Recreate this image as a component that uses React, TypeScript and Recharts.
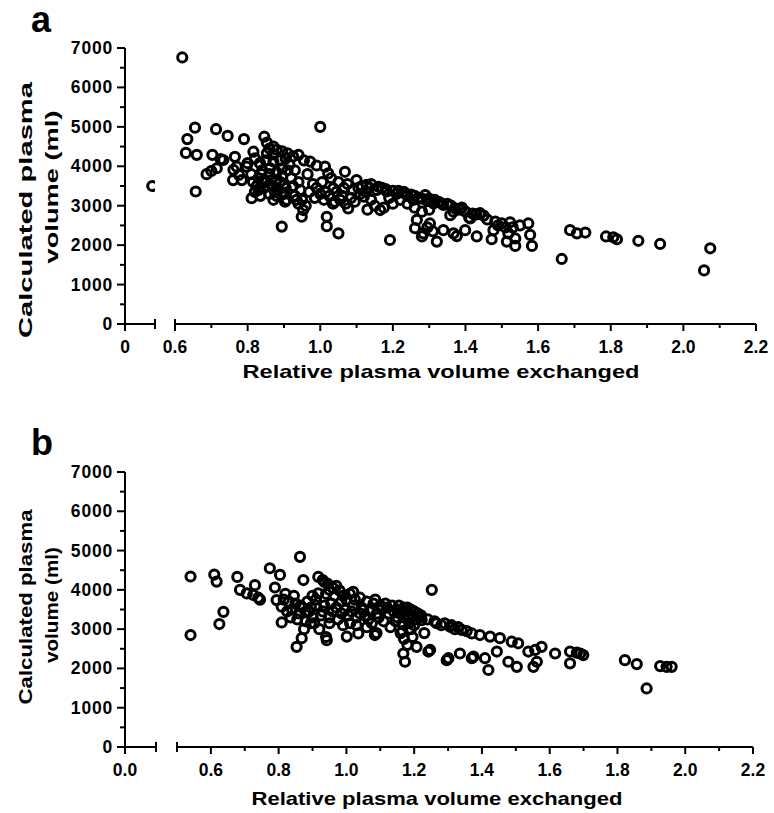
import { ScatterChart, Scatter, XAxis, YAxis } from 'recharts'

type Pt = [number, number]

const FONT = '"Liberation Sans", Arial, Helvetica, sans-serif'

const Y_TICKS = [0, 500, 1000, 1500, 2000, 2500, 3000, 3500, 4000, 4500, 5000, 5500, 6000, 6500, 7000]
const A_X_TICKS = [0.6, 0.7, 0.8, 0.9, 1.0, 1.1, 1.2, 1.3, 1.4, 1.5, 1.6, 1.7, 1.8, 1.9, 2.0, 2.1, 2.2]
const B_X_TICKS = [0.5, ...A_X_TICKS]
const A_LEFT_TICKS = [0, 0.55]
const B_LEFT_TICKS = [0, 0.1]

const X_TITLE = 'Relative plasma volume exchanged'
const Y_TITLE_1 = 'Calculated plasma'
const Y_TITLE_2 = 'volume (ml)'

// panel a: the lone point before the axis break
const A_LEFT: Pt[] = [[0.5, 3500]]

const A_MAIN: Pt[] = [
  [0.62, 6760], [0.655, 4980], [0.634, 4690], [0.63, 4340], [0.66, 4290], [0.657, 3360],
  [0.713, 4940], [0.745, 4770], [0.79, 4690], [0.703, 4290], [0.726, 4180], [0.687, 3800],
  [0.715, 3950], [0.70, 3880], [0.733, 4160], [0.765, 4240], [0.761, 3910], [0.76, 3650],
  [0.784, 3650], [0.77, 3990], [0.797, 3990], [0.776, 3780], [0.81, 3800], [0.816, 4370],
  [0.82, 4200], [0.80, 4080], [0.846, 4750], [0.853, 4600], [0.86, 4450], [0.871, 4500],
  [0.88, 4420], [0.895, 4380], [0.91, 4330], [0.925, 4250], [0.94, 4290], [0.955, 4150],
  [0.972, 4120], [0.99, 4020], [0.834, 4080], [0.853, 4330], [0.871, 4120], [0.84, 3900],
  [0.83, 3700], [0.85, 3600], [0.86, 3800], [0.87, 3500], [0.88, 3650], [0.845, 3450],
  [0.82, 3350], [0.811, 3190], [0.835, 3250], [0.86, 3300], [0.871, 3150], [0.885, 3400],
  [0.9, 3550], [0.90, 3300], [0.894, 2470], [0.903, 3100], [0.908, 3150], [0.92, 3700],
  [0.93, 3900], [0.94, 3600], [0.945, 3400], [0.93, 3250], [0.95, 3150], [0.949, 2720],
  [0.953, 2890], [0.96, 3000], [0.97, 3350], [0.98, 3550], [0.965, 3800], [1.0, 5000],
  [1.013, 3990], [1.022, 3820], [1.03, 3700], [1.018, 2720], [1.018, 2480], [1.05, 2300],
  [1.036, 3440], [1.0, 3300], [1.01, 3150], [1.04, 3100], [1.06, 3250], [1.068, 3860],
  [1.055, 3150], [1.077, 2930], [1.07, 3050], [1.09, 3400], [1.10, 3650], [1.11, 3300],
  [1.12, 3230], [1.128, 3530], [1.14, 3150], [1.156, 3400], [1.165, 2890], [1.17, 3450],
  [1.183, 3360], [1.19, 3200], [1.192, 2130], [1.2, 3380], [1.21, 3300], [1.22, 3150],
  [1.23, 3350], [1.24, 3250], [1.25, 3280], [1.256, 3145], [1.261, 2430], [1.266, 2640],
  [1.27, 3200], [1.28, 2220], [1.284, 2300], [1.289, 3270], [1.3, 3180], [1.302, 2550],
  [1.312, 3060], [1.321, 2090], [1.325, 3100], [1.339, 3020], [1.339, 2380], [1.35, 3050],
  [1.358, 2760], [1.367, 2850], [1.367, 2300], [1.371, 2930], [1.376, 2230], [1.385, 2900],
  [1.399, 2380], [1.41, 2700], [1.413, 2680], [1.42, 2800], [1.431, 2220], [1.44, 2810],
  [1.45, 2750], [1.472, 2150], [1.477, 2380], [1.482, 2600], [1.49, 2500], [1.514, 2090],
  [1.518, 2300], [1.523, 2580], [1.53, 2450], [1.537, 2170], [1.537, 1980], [1.55, 2500],
  [1.573, 2550], [1.578, 2260], [1.583, 1980], [1.665, 1650], [1.688, 2380], [1.707, 2300],
  [1.73, 2320], [1.787, 2220], [1.807, 2200], [1.817, 2150], [1.876, 2110], [1.936, 2030],
  [2.057, 1360], [2.074, 1920],
  // denser core of the cloud
  [0.815, 3600], [0.825, 3500], [0.83, 3400], [0.838, 3800], [0.845, 3650], [0.855, 3500],
  [0.865, 3650], [0.875, 3350], [0.88, 3250], [0.89, 3600], [0.895, 3750], [0.905, 3450],
  [0.91, 3900], [0.915, 4050], [0.925, 3500], [0.935, 3150], [0.94, 3050], [0.88, 3850],
  [0.862, 3950], [0.85, 4150], [0.87, 4300], [0.89, 4150], [0.905, 4200], [0.895, 3950],
  [0.985, 3200], [0.99, 3450], [1.005, 3600], [1.015, 3350], [1.025, 3250], [1.035, 3050],
  [1.045, 3350], [1.05, 3600], [1.065, 3450], [1.075, 3550], [1.085, 3200], [1.095, 3100],
  [1.105, 3450], [1.115, 3500], [1.125, 3350], [1.135, 3450], [1.14, 3550], [1.16, 3480],
  [1.18, 3420], [1.215, 3380], [1.235, 3300], [1.26, 3250], [1.28, 3180], [1.295, 3120],
  [1.315, 3150], [1.33, 3080], [1.36, 3000], [1.39, 2950], [1.40, 2850], [1.43, 2780],
  [1.46, 2650], [1.50, 2550], [1.51, 2450], [1.15, 3000], [1.175, 2950], [1.2, 3050],
  [1.13, 2900], [1.24, 3050], [1.26, 2950], [1.28, 2850], [1.3, 2900], [1.295, 2450],
  [1.31, 2350],
]

const B_MAIN: Pt[] = [
  [0.54, 4340], [0.54, 2850], [0.61, 4390], [0.617, 4210], [0.637, 3440], [0.625, 3130],
  [0.678, 4330], [0.686, 4000], [0.706, 3910], [0.73, 4120], [0.725, 3870], [0.745, 3750],
  [0.74, 3800], [0.774, 4550], [0.804, 4380], [0.863, 4840], [0.873, 4250], [0.789, 4060],
  [0.794, 3740], [0.809, 3570], [0.809, 3170], [0.853, 2550], [0.868, 2770], [0.82, 3900],
  [0.83, 3700], [0.84, 3500], [0.835, 3300], [0.85, 3650], [0.86, 3400], [0.87, 3550],
  [0.88, 3200], [0.885, 3700], [0.89, 3450], [0.90, 3300], [0.90, 3850], [0.917, 4330],
  [0.93, 4250], [0.945, 4150], [0.96, 4050], [0.98, 3980], [0.917, 3910], [0.91, 3600],
  [0.905, 3150], [0.92, 3000], [0.942, 2720], [0.94, 2800], [0.93, 3450], [0.95, 3300],
  [0.955, 3650], [0.97, 3550], [0.985, 3400], [0.99, 3100], [1.001, 2810], [1.011, 3150],
  [1.0, 3750], [1.01, 3900], [1.02, 3600], [1.035, 2890], [1.03, 3300], [1.04, 3800],
  [1.05, 3500], [1.06, 3700], [1.065, 3250], [1.08, 3650], [1.084, 2850], [1.089, 2900],
  [1.09, 3400], [1.10, 3600], [1.11, 3200], [1.12, 3550], [1.13, 3050], [1.14, 3450],
  [1.15, 3500], [1.15, 3300], [1.16, 2900], [1.165, 3150], [1.168, 2380], [1.173, 2170],
  [1.175, 3450], [1.18, 3550], [1.185, 3300], [1.19, 3000], [1.195, 2800], [1.2, 3450],
  [1.207, 2550], [1.215, 3300], [1.222, 3230], [1.23, 2900], [1.242, 2430], [1.247, 2470],
  [1.252, 4000], [1.266, 3150], [1.28, 3100], [1.296, 2210], [1.301, 2260], [1.306, 3060],
  [1.32, 3000], [1.335, 2380], [1.34, 2980], [1.355, 2950], [1.37, 2890], [1.37, 2260],
  [1.375, 2300], [1.394, 2850], [1.409, 2260], [1.419, 1960], [1.424, 2810], [1.444, 2430],
  [1.453, 2770], [1.478, 2170], [1.488, 2680], [1.503, 2040], [1.507, 2640], [1.537, 2430],
  [1.552, 2040], [1.557, 2470], [1.562, 2170], [1.576, 2550], [1.616, 2380], [1.66, 2430],
  [1.66, 2130], [1.68, 2400], [1.699, 2340], [1.69, 2380], [1.822, 2210], [1.857, 2110],
  [1.886, 1490], [1.926, 2060], [1.945, 2040], [1.96, 2040],
  // denser core of the cloud
  [0.815, 3750], [0.825, 3450], [0.845, 3850], [0.855, 3250], [0.865, 3600], [0.875, 3000],
  [0.88, 3450], [0.895, 3550], [0.895, 3150], [0.91, 3750], [0.925, 3350], [0.935, 3600],
  [0.94, 3900], [0.95, 3150], [0.96, 3450], [0.965, 3850], [0.975, 3250], [0.985, 3700],
  [0.995, 3500], [1.005, 3350], [1.015, 3450], [1.025, 3750], [1.03, 3100], [1.045, 3550],
  [1.055, 3350], [1.07, 3500], [1.075, 3150], [1.085, 3750], [1.095, 3300], [1.105, 3500],
  [1.115, 3650], [1.125, 3400], [1.135, 3600], [1.145, 3200], [1.155, 3600], [1.16, 3400],
  [1.17, 3300], [1.17, 3550], [1.18, 3450], [1.185, 3150], [1.19, 3500], [1.195, 3350],
  [1.205, 3250], [1.21, 3400], [1.22, 3350], [1.17, 2750], [1.18, 2600], [1.165, 2950],
  [1.2, 3100], [1.24, 3250], [1.26, 3200], [1.29, 3150], [1.31, 3100], [1.33, 3050],
  [1.06, 3050], [1.04, 3400], [0.99, 3850], [1.02, 3950], [0.95, 4000], [0.97, 4100],
  [0.935, 4200],
]

const toRows = (pts: Pt[]) => pts.map(([x, y]) => ({ x, y }))

const Ring = (props: any) => (
  <circle cx={props.cx} cy={props.cy} r={4.6} fill="none" stroke="#000" strokeWidth={3} />
)

const labelStyle = { fontFamily: FONT, fontWeight: 700, fontSize: 17.5, fill: '#000' }

function xTick(caps: number[], label: (v: number) => string) {
  return (props: any) => {
    const { x, y, payload } = props
    const v = payload.value as number
    const text = label(v)
    return (
      <g>
        {caps.includes(v) && <line x1={x} x2={x} y1={y - 5} y2={y + 5} stroke="#000" strokeWidth={2} />}
        <line x1={x} x2={x} y1={y} y2={y + (text ? 7 : 4)} stroke="#000" strokeWidth={2} />
        {text && (
          <text x={x} y={y + 29} textAnchor="middle" style={labelStyle}>{text}</text>
        )}
      </g>
    )
  }
}

const yTick = (props: any) => {
  const { x, y, payload } = props
  const v = payload.value as number
  const major = v % 1000 === 0
  return (
    <g>
      <line x1={x - (major ? 8 : 5)} x2={x} y1={y} y2={y} stroke="#000" strokeWidth={2} />
      {major && (
        <text x={x - 12} y={y + 6} textAnchor="end" style={{ ...labelStyle, letterSpacing: 0.8 }}>{v}</text>
      )}
    </g>
  )
}

const mainLabel = (v: number) => (Math.round(v * 10) % 2 === 0 ? v.toFixed(1) : '')
const axisLine = { stroke: '#000', strokeWidth: 2 }

interface PanelProps {
  top: number
  leftW: number
  mainLeft: number
  mainW: number
  axisH: number
  leftDomain: [number, number]
  mainDomain: [number, number]
  leftTicks: number[]
  mainTicks: number[]
  zeroLabel: string
  leftPts: Pt[]
  mainPts: Pt[]
}

function Panel(p: PanelProps) {
  const H = 380
  return (
    <>
      <div style={{ position: 'absolute', left: 0, top: p.top }}>
        <ScatterChart width={p.leftW} height={H} margin={{ top: 48, right: 10, bottom: 0, left: 65 }}>
          <XAxis
            type="number" dataKey="x" domain={p.leftDomain} ticks={p.leftTicks} interval={0}
            tickSize={0} tickMargin={0} tickLine={false} axisLine={axisLine} height={p.axisH}
            tick={xTick([p.leftDomain[1]], v => (v === 0 ? p.zeroLabel : ''))} allowDataOverflow
          />
          <YAxis
            type="number" dataKey="y" domain={[0, 7000]} ticks={Y_TICKS} interval={0}
            tickSize={0} tickMargin={0} tickLine={false} axisLine={axisLine} width={60}
            tick={yTick} allowDataOverflow
          />
          <Scatter data={toRows(p.leftPts)} shape={Ring} isAnimationActive={false} />
        </ScatterChart>
      </div>
      <div style={{ position: 'absolute', left: p.mainLeft, top: p.top }}>
        <ScatterChart width={p.mainW} height={H} margin={{ top: 48, right: 30, bottom: 0, left: 15 }}>
          <XAxis
            type="number" dataKey="x" domain={p.mainDomain} ticks={p.mainTicks} interval={0}
            tickSize={0} tickMargin={0} tickLine={false} axisLine={axisLine} height={p.axisH}
            tick={xTick([p.mainDomain[0]], mainLabel)} allowDataOverflow
          />
          <YAxis hide type="number" dataKey="y" domain={[0, 7000]} allowDataOverflow />
          <Scatter data={toRows(p.mainPts)} shape={Ring} isAnimationActive={false} />
        </ScatterChart>
      </div>
    </>
  )
}

const titleStyle = { fontFamily: FONT, fontWeight: 700, fontSize: 19, fill: '#000' }

export default function App() {
  return (
    <div style={{ position: 'absolute', left: 0, top: 0, width: 774, height: 813, background: '#fff' }}>
      <Panel
        top={0} leftW={165} mainLeft={160} mainW={626} axisH={56}
        leftDomain={[0, 0.55]} mainDomain={[0.6, 2.2]}
        leftTicks={A_LEFT_TICKS} mainTicks={A_X_TICKS} zeroLabel="0"
        leftPts={A_LEFT} mainPts={A_MAIN}
      />
      <Panel
        top={424} leftW={166} mainLeft={162} mainW={621} axisH={57}
        leftDomain={[0, 0.1]} mainDomain={[0.5, 2.2]}
        leftTicks={B_LEFT_TICKS} mainTicks={B_X_TICKS} zeroLabel="0.0"
        leftPts={[]} mainPts={B_MAIN}
      />
      <svg width={774} height={813} style={{ position: 'absolute', left: 0, top: 0, pointerEvents: 'none' }}>
        <text x={31} y={32} style={{ fontFamily: FONT, fontWeight: 700, fontSize: 36 }}>a</text>
        <text x={31} y={455} style={{ fontFamily: FONT, fontWeight: 700, fontSize: 36 }}>b</text>

        <text x={32} y={210} transform="rotate(-90 32 210)" textAnchor="middle" textLength={256} lengthAdjust="spacingAndGlyphs" style={titleStyle}>{Y_TITLE_1}</text>
        <text x={58} y={187} transform="rotate(-90 58 187)" textAnchor="middle" textLength={153} lengthAdjust="spacingAndGlyphs" style={titleStyle}>{Y_TITLE_2}</text>
        <text x={441} y={378} textAnchor="middle" textLength={397} lengthAdjust="spacingAndGlyphs" style={titleStyle}>{X_TITLE}</text>

        <text x={32} y={607} transform="rotate(-90 32 607)" textAnchor="middle" textLength={195} lengthAdjust="spacingAndGlyphs" style={titleStyle}>{Y_TITLE_1}</text>
        <text x={58} y={605} transform="rotate(-90 58 605)" textAnchor="middle" textLength={116} lengthAdjust="spacingAndGlyphs" style={titleStyle}>{Y_TITLE_2}</text>
        <text x={437} y={805} textAnchor="middle" textLength={371} lengthAdjust="spacingAndGlyphs" style={titleStyle}>{X_TITLE}</text>
      </svg>
    </div>
  )
}
